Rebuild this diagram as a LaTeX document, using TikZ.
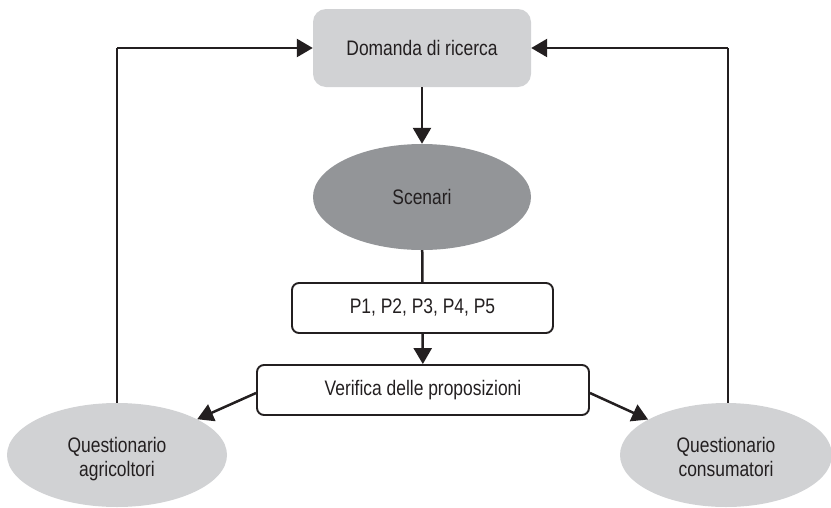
\documentclass[tikz,border=0pt]{standalone}
\usepackage{fontspec}
\setmainfont[FakeStretch=0.83]{Liberation Sans}
\usetikzlibrary{shapes.geometric,arrows.meta}
\definecolor{lightg}{HTML}{D1D2D4}
\definecolor{darkg}{HTML}{939598}
\definecolor{ink}{HTML}{231F20}
\newcommand{\twolines}[2]{\raisebox{-10pt}[0pt][0pt]{\begin{tabular}{@{}c@{}}#1\\#2\end{tabular}}}
\tikzset{
  lbl/.style={font=\fontsize{21}{24}\selectfont, text=ink, align=center},
  graybox/.style={lbl, fill=lightg, rounded corners=13pt, minimum width=218pt, minimum height=78pt, inner sep=0pt},
  whitebox/.style={lbl, draw=ink, line width=1.9pt, fill=white, rounded corners=7pt, minimum height=50pt, inner sep=0pt},
  ell/.style={lbl, ellipse, inner sep=0pt},
  conn/.style={draw=ink, line width=2.5pt},
  arr/.style={conn, -{Triangle[length=16pt,width=18pt]}},
}
\begin{document}
\begin{tikzpicture}[x=1pt,y=-1pt]
\useasboundingbox (0,0) rectangle (831,507);
\node[graybox] (dr) at (422,48) {Domanda di ricerca};
\node[ell, fill=darkg, minimum width=218pt, minimum height=106pt] (sc) at (422,197) {Scenari};
\node[whitebox, minimum width=261pt] (pp) at (422.5,308) {P1, P2, P3, P4, P5};
\node[whitebox, minimum width=332pt] (vf) at (423,390) {Verifica delle proposizioni};
\node[ell, fill=lightg, minimum width=220pt, minimum height=104pt] (qa) at (117,455) {\twolines{Questionario}{agricoltori}};
\node[ell, fill=lightg, minimum width=212pt, minimum height=104pt] (qc) at (726,455) {\twolines{Questionario}{consumatori}};
\coordinate (lc) at (117,48);
\coordinate (rc) at (728,48);
\draw[arr] (dr) -- (sc);
\draw[conn] (sc) -- (pp);
\draw[arr] (pp) -- (vf);
\draw[arr] ([yshift=-3pt]vf.west) -- (qa);
\draw[arr] ([yshift=-3pt]vf.east) -- (qc);
\draw[conn] (qa.north) -- (lc);
\draw[arr] (lc) -- (dr.west);
\draw[conn] (qc.north -| rc) -- (rc);
\draw[arr] (rc) -- (dr.east);
\end{tikzpicture}
\end{document}
